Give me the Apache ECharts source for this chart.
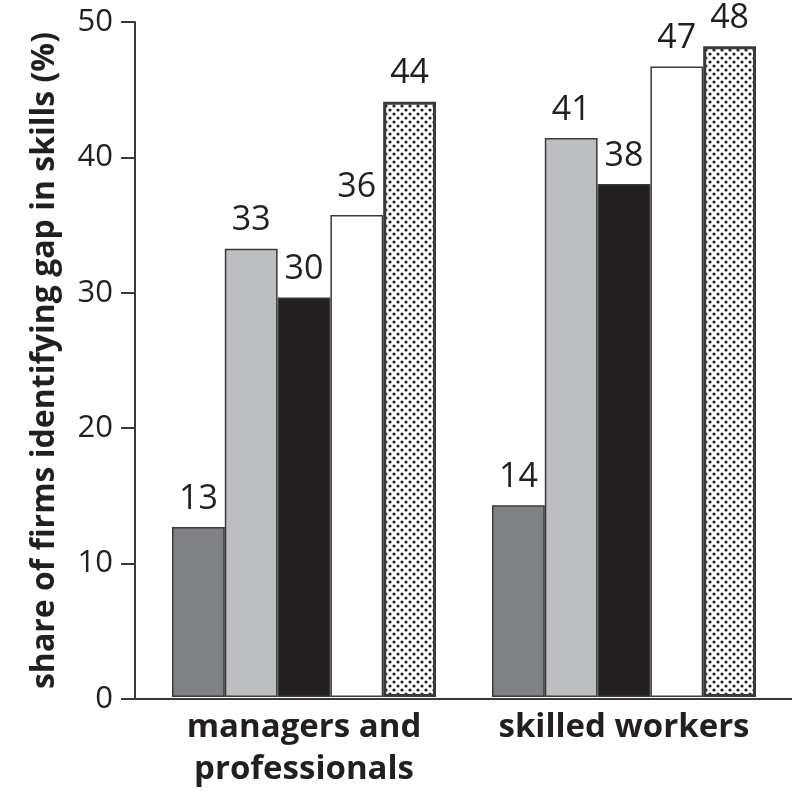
<!DOCTYPE html>
<html lang="en">
<head>
<meta charset="UTF-8">
<title>Skills gap</title>
<script src="https://cdn.jsdelivr.net/npm/echarts@6/dist/echarts.min.js"></script>
<style>
html, body { margin: 0; padding: 0; background: #fff; }
#chart { width: 792px; height: 791px; }
</style>
</head>
<body>
<div id="chart"></div>
<script>
const categories = ['managers and\nprofessionals', 'skilled workers'];
const series1 = [12.6, 14.2];
const series2 = [33.2, 41.4];
const series3 = [29.6, 38.0];
const series4 = [35.7, 46.7];
const series5 = [44.1, 48.2];
const yTicks = [0, 10, 20, 30, 40, 50];

// dotted fill for the last bar of each group
const tile = document.createElement('canvas');
tile.width = 8;
tile.height = 8;
const tctx = tile.getContext('2d');
tctx.fillStyle = '#ffffff';
tctx.fillRect(0, 0, 8, 8);
tctx.fillStyle = '#231f20';
[[2, 2], [6, 6]].forEach(function (p) {
  tctx.beginPath();
  tctx.arc(p[0], p[1], 1.6, 0, Math.PI * 2);
  tctx.fill();
});

const textColor = '#231f20';
const fontName = '"Open Sans", "Noto Sans", sans-serif';

function barSeries(data, color, borderWidth) {
  return {
    type: 'bar',
    xAxisIndex: 1,
    yAxisIndex: 1,
    data: data,
    barGap: '0%',
    barCategoryGap: '17.5%',
    itemStyle: {
      color: color,
      borderColor: '#3a3a3c',
      borderWidth: borderWidth
    },
    label: {
      show: true,
      position: 'top',
      distance: 11,
      color: textColor,
      fontFamily: fontName,
      fontSize: 34,
      formatter: function (p) { return Math.round(p.value); }
    }
  };
}

const chart = echarts.init(document.getElementById('chart'));
chart.setOption({
  animation: false,
  backgroundColor: '#ffffff',
  grid: [
    { left: 135, right: 0, top: 22, bottom: 92 },
    { left: 144, right: 8, top: 22, bottom: 92 }
  ],
  xAxis: [{
    gridIndex: 0,
    type: 'value',
    min: 0,
    max: 1,
    axisLine: { show: true, lineStyle: { color: '#3a3a3c', width: 2 } },
    axisTick: { show: false },
    axisLabel: { show: false },
    splitLine: { show: false }
  }, {
    gridIndex: 1,
    type: 'category',
    data: categories,
    axisLine: { show: false },
    axisTick: { show: false },
    axisLabel: {
      interval: 0,
      hideOverlap: false,
      color: textColor,
      fontFamily: fontName,
      fontWeight: 'bold',
      fontSize: 33,
      lineHeight: 42,
      margin: 10
    }
  }],
  yAxis: [{
    gridIndex: 0,
    type: 'value',
    min: yTicks[0],
    max: yTicks[yTicks.length - 1],
    interval: 10,
    name: 'share of firms identifying gap in skills (%)',
    nameLocation: 'middle',
    nameGap: 74,
    nameTextStyle: {
      color: textColor,
      fontFamily: fontName,
      fontWeight: 'bold',
      fontSize: 32
    },
    axisLine: { show: true, lineStyle: { color: '#3a3a3c', width: 2 } },
    axisTick: { show: true, length: 14, lineStyle: { color: '#3a3a3c', width: 2 } },
    axisLabel: {
      color: textColor,
      fontFamily: fontName,
      fontSize: 31,
      margin: 22
    },
    splitLine: { show: false }
  }, {
    gridIndex: 1,
    type: 'value',
    min: yTicks[0],
    max: yTicks[yTicks.length - 1],
    show: false
  }],
  series: [
    barSeries(series1, '#808184', 1.5),
    barSeries(series2, '#bcbec0', 1.5),
    barSeries(series3, '#231f20', 1.5),
    barSeries(series4, '#ffffff', 1.5),
    barSeries(series5, { image: tile, repeat: 'repeat' }, 3)
  ]
});
</script>
</body>
</html>
